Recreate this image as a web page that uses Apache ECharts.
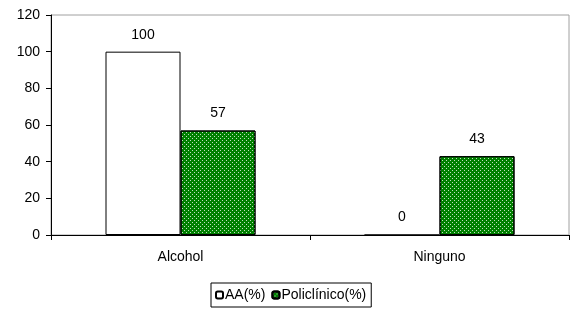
<!DOCTYPE html>
<html lang="es">
<head>
    <meta charset="UTF-8">
    <title>Chart</title>
    <script src="https://cdn.jsdelivr.net/npm/echarts@6/dist/echarts.min.js"></script>
    <style>
        body{margin:0;background:#fff;}
        #main{width:571px;height:312px;}
    </style>
</head>
<body>
<div id="main"></div>
<script>
    var categories = ['Alcohol', 'Ninguno'];
    var aaValues = [100, 0];
    var poliValues = [57, 43];
    var yTicks = [0, 20, 40, 60, 80, 100, 120];

    var myCharts = echarts.init(document.getElementById('main'));
    // white dot pattern on the green bars
    var dots = {
        symbol: 'rect',
        symbolSize: 1,
        color: 'rgba(255,255,255,0.75)',
        dashArrayX: [[1, 3], [0, 2, 1, 1]],
        dashArrayY: [1, 1]
    };
    var option = {
        animation: false,
        textStyle: {fontFamily: 'Liberation Sans', color: '#000'},
        grid: {
            left: 51, right: 2, top: 15, bottom: 77,
            show: true,
            borderColor: '#a0a0a0',
            borderWidth: 1
        },
        legend: {
            left: 211,
            top: 283,
            itemGap: 6,
            itemWidth: 7,
            itemHeight: 7,
            padding: [5, 5, 5, 4],
            borderColor: '#000',
            borderWidth: 1,
            textStyle: {fontSize: 14, color: '#000', padding: [0, 0, 0, -3]},
            data: ['AA(%)', 'Policlínico(%)']
        },
        xAxis: {
            type: 'category',
            data: categories,
            axisLine: {lineStyle: {color: '#000', width: 1}},
            axisTick: {show: true, length: 5, lineStyle: {color: '#000'}},
            axisLabel: {fontSize: 14, color: '#000', margin: 15}
        },
        yAxis: {
            type: 'value',
            min: yTicks[0],
            max: yTicks[yTicks.length - 1],
            interval: 20,
            axisLine: {show: true, lineStyle: {color: '#000', width: 1}},
            axisTick: {show: true, length: 5, lineStyle: {color: '#000'}},
            axisLabel: {fontSize: 14, color: '#000', margin: 11},
            splitLine: {show: false}
        },
        series: [
            {
                name: 'AA(%)',
                type: 'bar',
                data: aaValues,
                barWidth: 75,
                barGap: '0%',
                itemStyle: {color: '#fff', borderColor: '#000', borderWidth: 1},
                label: {show: true, position: 'top', distance: 10, fontSize: 14, color: '#000'}
            },
            {
                name: 'Policlínico(%)',
                type: 'bar',
                data: poliValues,
                barWidth: 75,
                barGap: '0%',
                itemStyle: {color: '#008000', borderColor: '#000', borderWidth: 1, decal: dots},
                label: {show: true, position: 'top', distance: 10, fontSize: 14, color: '#000'}
            }
        ]
    };
    myCharts.setOption(option);
</script>
</body>
</html>
